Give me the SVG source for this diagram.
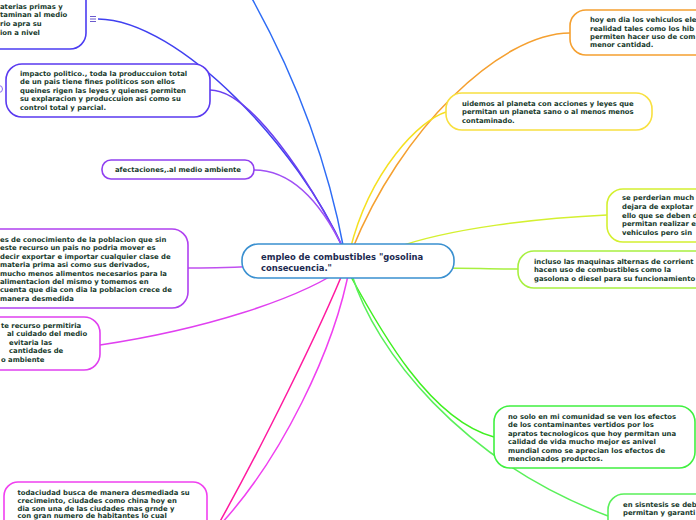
<svg xmlns="http://www.w3.org/2000/svg" width="696" height="520" viewBox="0 0 696 520">
<style>
.t{font-family:"DejaVu Sans",Verdana,sans-serif;font-weight:bold;font-size:6.85px;fill:#173a2c}
.c{font-family:"DejaVu Sans",Verdana,sans-serif;font-weight:bold;font-size:8.4px;fill:#1c2a50}
.box{fill:#ffffff;stroke-width:1.6}
.ln{fill:none;stroke-width:1.5}
</style>
<rect width="696" height="520" fill="#ffffff"/>
<g id="connectors">
<path class="ln" d="M98,19 C180,20 300,150 344,250" stroke="#4040f0" stroke-width="1.2"/>
<path class="ln" d="M210,90 C250,90 310,180 344,250" stroke="#6a40f0"/>
<path class="ln" d="M254,170 C290,170 320,200 344,250" stroke="#a050f5"/>
<path class="ln" d="M344,250 Q320,120 250,-5" stroke="#2e6cf5"/>
<path class="ln" d="M188,268 C220,268 240,267 300,265" stroke="#c050f0"/>
<path class="ln" d="M100,345 C200,330 300,300 348,265" stroke="#e040f0"/>
<path class="ln" d="M346,265 C320,330 260,450 218,525" stroke="#ff1aa0"/>
<path class="ln" d="M350,265 C335,350 280,460 220,525" stroke="#f040f0" stroke-width="1.1"/>
<path class="ln" d="M570,33 C500,33 400,130 352,250" stroke="#f5a030"/>
<path class="ln" d="M446,112 C420,120 370,170 350,250" stroke="#f5e020"/>
<path class="ln" d="M607,215 C540,218 450,228 395,248" stroke="#d4f030"/>
<path class="ln" d="M519,269 C490,269 470,268 440,268" stroke="#a8f040"/>
<path class="ln" d="M350,275 C380,330 430,420 494,437" stroke="#40f020"/>
<path class="ln" d="M352,275 C375,350 460,460 608,516" stroke="#5af05a" stroke-width="1.1"/>
</g>
<g id="node-top-left">
<rect class="box" x="-20" y="-20" width="106" height="69" rx="16" stroke="#4b3cf2"/>
<text class="t" x="0" y="8.6">aterias primas y</text>
<text class="t" x="0" y="17.3">taminan al medio</text>
<text class="t" x="0" y="26">rio apra su</text>
<text class="t" x="0" y="34.6">ion a nivel</text>
<g stroke="#6a5acd" stroke-width="1">
<line x1="90" y1="16.5" x2="96" y2="16.5"/>
<line x1="90" y1="19" x2="96" y2="19"/>
<line x1="90" y1="21.5" x2="96" y2="21.5"/>
</g>
</g>
<g id="node-impacto">
<circle cx="-1" cy="89" r="3.5" fill="#ffffff" stroke="#8a6af0" stroke-width="1"/>
<rect class="box" x="6" y="64" width="204" height="53" rx="16" stroke="#5a3af0"/>
<text class="t" x="20" y="75.5">impacto politico., toda la produccuion total</text>
<text class="t" x="20" y="84.1">de un pais tiene fines politicos son ellos</text>
<text class="t" x="20" y="92.7">queines rigen las leyes y quienes permiten</text>
<text class="t" x="20" y="101.3">su explaracion y produccuion asi como su</text>
<text class="t" x="20" y="109.9">control total y parcial.</text>
</g>
<g id="node-afectaciones">
<rect class="box" x="102" y="160" width="152" height="19" rx="9" stroke="#9040f0"/>
<text class="t" x="115" y="172.3">afectaciones,.al medio ambiente</text>
</g>
<g id="node-conocimiento">
<rect class="box" x="-20" y="229" width="208" height="79" rx="16" stroke="#b040f0"/>
<text class="t" x="0" y="242">es de conocimiento de la poblacion que sin</text>
<text class="t" x="0" y="250.4">este recurso un pais no podria mover es</text>
<text class="t" x="0" y="258.8">decir exportar e importar cualquier clase de</text>
<text class="t" x="0" y="267.2">materia prima asi como sus derivados,</text>
<text class="t" x="0" y="275.6">mucho menos alimentos necesarios para la</text>
<text class="t" x="0" y="284">alimentacion del mismo y tomemos en</text>
<text class="t" x="0" y="292.4">cuenta que dia con dia la poblacion crece de</text>
<text class="t" x="0" y="300.8">manera desmedida</text>
</g>
<g id="node-recurso">
<rect class="box" x="-20" y="317" width="120" height="53" rx="16" stroke="#e040f0"/>
<text class="t" x="1" y="327.5">te recurso permitiria</text>
<text class="t" x="7" y="336.1">al cuidado del medio</text>
<text class="t" x="9" y="344.7">evitaria las</text>
<text class="t" x="9" y="353.3">cantidades de</text>
<text class="t" x="1" y="361.9">o ambiente</text>
</g>
<g id="node-todaciudad">
<rect class="box" x="4" y="482" width="203" height="60" rx="14" stroke="#f040f0"/>
<text class="t" x="17.5" y="495.2">todaciudad busca de manera desmediada su</text>
<text class="t" x="17.5" y="503.1">crecimeinto, ciudades como china hoy en</text>
<text class="t" x="17.5" y="511">dia son una de las ciudades mas grnde y</text>
<text class="t" x="17.5" y="518.3">con gran numero de habitantes lo cual</text>
</g>
<g id="node-center">
<rect class="box" x="242" y="244" width="212" height="34" rx="16" stroke="#3a90d0"/>
<text class="c" x="261" y="259.5">empleo de combustibles "gosolina</text>
<text class="c" x="261" y="270.5">consecuencia."</text>
</g>
<g id="node-vehiculos">
<rect class="box" x="570" y="10" width="150" height="45" rx="16" stroke="#f5a030"/>
<text class="t" x="590" y="22.3">hoy en dia los vehiculos ele</text>
<text class="t" x="590" y="30.6">realidad tales como los hib</text>
<text class="t" x="590" y="39">permiten hacer uso de com</text>
<text class="t" x="590" y="47.3">menor cantidad.</text>
</g>
<g id="node-planeta">
<rect class="box" x="446" y="93" width="206" height="37" rx="16" stroke="#f8e040"/>
<text class="t" x="462" y="105.5">uidemos al planeta con acciones y leyes que</text>
<text class="t" x="462" y="114">permitan un planeta sano o al menos menos</text>
<text class="t" x="462" y="122.5">contaminado.</text>
</g>
<g id="node-perderian">
<rect class="box" x="607" y="189" width="120" height="53" rx="16" stroke="#d4f030"/>
<text class="t" x="622" y="200.3">se perderian much</text>
<text class="t" x="622" y="208.9">dejara de explotar</text>
<text class="t" x="622" y="217.5">ello que se deben d</text>
<text class="t" x="622" y="226.1">permitan realizar e</text>
<text class="t" x="622" y="234.7">vehiculos pero sin</text>
</g>
<g id="node-maquinas">
<rect class="box" x="518" y="251" width="200" height="37" rx="16" stroke="#a8f040"/>
<text class="t" x="534" y="263.5">incluso las maquinas alternas de corrient</text>
<text class="t" x="534" y="272">hacen uso de combustibles como la</text>
<text class="t" x="534" y="280.5">gasolona o diesel para su funcionamiento</text>
</g>
<g id="node-comunidad">
<rect class="box" x="494" y="406" width="201" height="62" rx="16" stroke="#40f040"/>
<text class="t" x="508" y="418.5">no solo en mi comunidad se ven los efectos</text>
<text class="t" x="508" y="427">de los contaminantes vertidos por los</text>
<text class="t" x="508" y="435.5">apratos tecnologicos que hoy permitan una</text>
<text class="t" x="508" y="444">calidad de vida mucho mejor es anivel</text>
<text class="t" x="508" y="452.5">mundial como se aprecian los efectos de</text>
<text class="t" x="508" y="461">mencionados productos.</text>
</g>
<g id="node-sintesis">
<rect class="box" x="608" y="494" width="120" height="50" rx="16" stroke="#5af05a"/>
<text class="t" x="623" y="506.5">en sisntesis se deb</text>
<text class="t" x="623" y="515">permitan y garanti</text>
</g>
</svg>
